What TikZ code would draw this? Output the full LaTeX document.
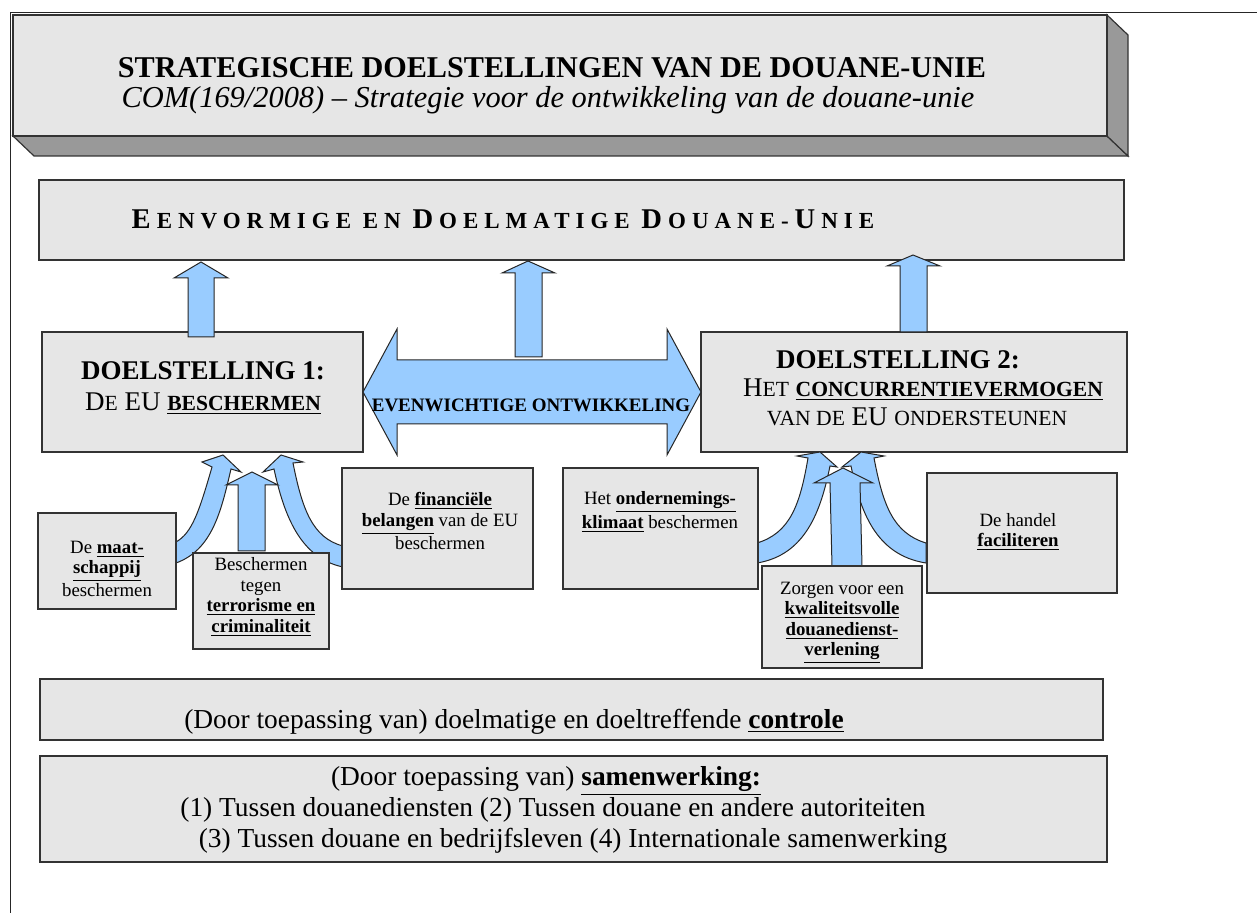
\documentclass[tikz,border=0pt]{standalone}
\usepackage{fontspec}
\setmainfont{LiberationSerif}[Extension=.ttf,UprightFont=*-Regular,BoldFont=*-Bold,ItalicFont=*-Italic,BoldItalicFont=*-BoldItalic]
\usetikzlibrary{fit}

\definecolor{vakgrijs}{HTML}{E6E6E6}
\definecolor{zijgrijs}{HTML}{999999}
\definecolor{pijlblauw}{HTML}{99CCFF}

\newcommand{\onder}[1]{\underline{\textbf{#1}}}
\newcommand{\kl}[1]{{\fontsize{10.8}{13}\selectfont #1}}
\newcommand{\gr}[1]{{\fontsize{14.3}{16}\selectfont #1}\kern3pt}

\begin{document}
\begin{tikzpicture}[x=0.5pt,y=-0.5pt,
	vak/.style={draw=black!80,fill=vakgrijs,line width=0.6pt,inner sep=0pt},
	blok/.style={draw=black!85,fill=pijlblauw,line width=0.5pt},
	klein/.style={align=center,inner sep=0pt,font=\fontsize{9.4}{10.25}\selectfont},
	groot/.style={align=center,inner sep=0pt,font=\fontsize{13.7}{15.5}\selectfont}]
	\useasboundingbox (0,0) rectangle (1257,913);
	\draw[line width=0.7pt,black!85] (10.5,913) |- (1257,12.5);

	% titel als balk
	\filldraw[fill=zijgrijs,draw=black!80,line width=0.6pt] (13,136) -- (1107,136) -- (1128,156) -- (34,156) -- cycle;
	\filldraw[fill=zijgrijs,draw=black!80,line width=0.6pt] (1107,15) -- (1128,35) -- (1128,156) -- (1107,136) -- cycle;
	\node[vak,fit={(13,15) (1107,136)}] (kop) {};
	\node[anchor=base,font=\fontsize{15.1}{18}\selectfont\bfseries] (kop-t) at (552,78) {STRATEGISCHE DOELSTELLINGEN VAN DE DOUANE-UNIE};
	\node[anchor=base,font=\fontsize{15.2}{18}\selectfont\itshape] (kop-s) at (548,108) {COM(169/2008) -- Strategie voor de ontwikkeling van de douane-unie};

	% hoofddoel en de twee doelstellingen
	\node[vak,fit={(39,180) (1124,260)}] (eenv) {};
	\node[anchor=base,font=\fontsize{11.5}{13}\selectfont\bfseries\addfontfeature{LetterSpace=26}] (eenv-t) at (503,229) {\gr{E}ENVORMIGE EN \gr{D}OELMATIGE \gr{D}OUANE-\kern3pt\gr{U}NIE};
	\node[vak,fit={(42,332) (363,452)}] (d1) {};
	\node[vak,fit={(701,332) (1127,452)}] (d2) {};
	\node[align=center,inner sep=0pt,font=\fontsize{13.5}{15.5}\selectfont] (d1-t) at (203,388) {\textbf{DOELSTELLING 1:}\\D\kl{E} EU \onder{\kl{BESCHERMEN}}};
	\node[align=center,inner sep=0pt,font=\fontsize{13.5}{14.25}\selectfont] (d2-t) at (917,388) {\hspace*{-19pt}\textbf{DOELSTELLING 2:}\\\hspace*{6pt}H\kl{ET} \onder{\kl{CONCURRENTIEVERMOGEN}}\\\kl{VAN DE} EU \kl{ONDERSTEUNEN}};

	% pijlen naar boven
	\filldraw[blok] (188,337) -- (188,278) -- (174,278) -- (201,262) -- (228,278) -- (214,278) -- (214,337) -- cycle;
	\filldraw[blok] (515,357) -- (515,273) -- (502,273) -- (528,261) -- (555,273) -- (542,273) -- (542,357) -- cycle;
	\filldraw[blok] (900,332) -- (900,266) -- (887,266) -- (913,255) -- (940,266) -- (927,266) -- (927,332) -- cycle;

	% evenwichtige ontwikkeling
	\filldraw[blok] (363,392) -- (397,329) -- (397,360) -- (667,360) -- (667,329) -- (701,392) -- (667,455) -- (667,424) -- (397,424) -- (397,455) -- cycle;
	\node[anchor=base,font=\fontsize{9.5}{11}\selectfont\bfseries] (even) at (531,412) {EVENWICHTIGE ONTWIKKELING};

	% gebogen pijlen
	\filldraw[blok] (176,542) .. controls (192,533) and (199,512) .. (212,467) -- (202,462) -- (223,455) -- (241,472) -- (231,469) .. controls (221,512) and (212,550) .. (176,563) -- cycle;
	\filldraw[blok] (343,546) .. controls (312,538) and (302,508) .. (293,463) -- (303,462) -- (281,455) -- (263,472) -- (274,469) .. controls (284,515) and (300,558) .. (343,567) -- cycle;
	\filldraw[blok] (757,543) .. controls (790,533) and (800,505) .. (808,458) -- (797,456) -- (820,452) -- (837,467) -- (830,466) .. controls (821,510) and (806,555) .. (757,563) -- cycle;
	\filldraw[blok] (926,543) .. controls (893,533) and (883,505) .. (874,458) -- (884,456) -- (861,452) -- (842,467) -- (851,466) .. controls (860,510) and (875,555) .. (926,563) -- cycle;
	\filldraw[blok] (238,551) -- (238,485) -- (226,485) -- (252,472) -- (278,485) -- (265,485) -- (265,551) -- cycle;
	\filldraw[blok] (832,566) -- (830,483) -- (814,483) -- (843,468) -- (873,483) -- (860,483) -- (862,566) -- cycle;

	% deeldoelen
	\node[vak,fit={(38,513) (176,609)}] (maat) {};
	\node[vak,fit={(193,553) (329,649)}] (terror) {};
	\node[vak,fit={(342,468) (533,589)}] (finan) {};
	\node[vak,fit={(563,468) (758,589)}] (klimaat) {};
	\node[vak,fit={(762,566) (922,668)}] (kwal) {};
	\node[vak,fit={(927,473) (1117,593)}] (handel) {};
	\node[klein] (maat-t) at (107,569) {De \onder{maat-}\\\onder{schappij}\\beschermen};
	\node[klein] (terror-t) at (261,597) {Beschermen\\tegen\\\onder{terrorisme en}\\\onder{criminaliteit}};
	\node[klein] (finan-t) at (440,521) {De \onder{financiële}\\\onder{belangen} van de EU\\beschermen};
	\node[klein] (klimaat-t) at (660,512) {Het \onder{ondernemings-}\\\onder{klimaat} beschermen};
	\node[klein] (kwal-t) at (842,623) {Zorgen voor een\\\onder{kwaliteitsvolle}\\\onder{douanedienst-}\\\onder{verlening}};
	\node[klein] (handel-t) at (1018,532) {De handel\\\onder{faciliteren}};

	% middelen
	\node[vak,fit={(40,679) (1103,740)}] (controle) {};
	\node[anchor=base,font=\fontsize{13.7}{15.5}\selectfont] (controle-t) at (514,728) {(Door toepassing van) doelmatige en doeltreffende \onder{controle}};
	\node[vak,fit={(40,756) (1107,862)}] (samen) {};
	\node[groot] (samen-t) at (553,810) {\hspace*{-7pt}(Door toepassing van) \onder{samenwerking:}\\(1) Tussen douanediensten (2) Tussen douane en andere autoriteiten\\\hspace*{20pt}(3) Tussen douane en bedrijfsleven (4) Internationale samenwerking};
\end{tikzpicture}
\end{document}
